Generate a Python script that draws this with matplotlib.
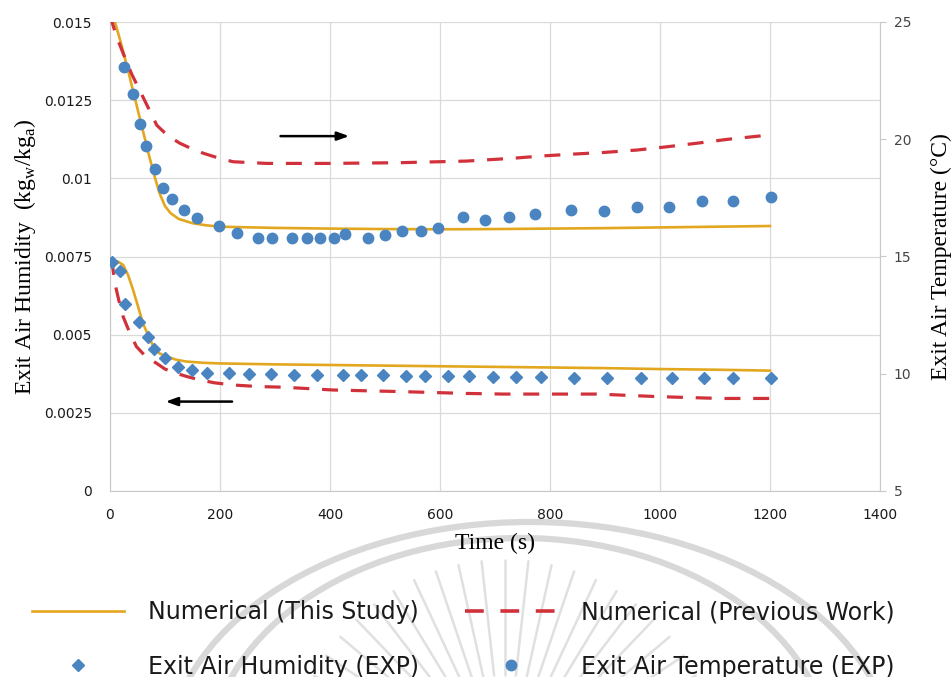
import numpy as np
import matplotlib
matplotlib.use('Agg')
import matplotlib.pyplot as plt
from matplotlib.lines import Line2D
from matplotlib.patches import Ellipse

# exit air humidity (left axis, kg_w/kg_a)
time_hum_this = [0, 4, 15, 24, 33, 42, 51, 60, 70, 79, 90, 103, 120, 139, 170, 200,
                 300, 400, 500, 600, 700, 800, 900, 1000, 1100, 1200]
hum_this = [0.00742, 0.00739, 0.00733, 0.00723, 0.0069, 0.00643, 0.0059, 0.00536,
            0.00495, 0.00462, 0.0044, 0.0043, 0.0042, 0.00414, 0.0041, 0.00408,
            0.00405, 0.00403, 0.00401, 0.00399, 0.00397, 0.00395, 0.00393, 0.0039,
            0.00388, 0.00385]

time_hum_prev = [0, 4, 9, 16, 24, 35, 48, 65, 85, 100, 121, 140, 164, 190, 224, 270,
                 315, 406, 527, 649, 715, 885, 994, 1109, 1200]
hum_prev = [0.0074, 0.00728, 0.00664, 0.0061, 0.00557, 0.0051, 0.00462, 0.0043,
            0.00408, 0.0039, 0.00376, 0.00366, 0.00355, 0.00346, 0.00339, 0.00334,
            0.00332, 0.00323, 0.00318, 0.00312, 0.0031, 0.0031, 0.00302, 0.00296,
            0.00296]

time_hum_exp = [3, 18, 28, 52, 70, 80, 100, 123, 150, 177, 216, 253, 292, 335, 377,
                424, 457, 496, 538, 572, 615, 653, 697, 738, 784, 843, 903, 965,
                1022, 1080, 1133, 1202]
hum_exp = [0.00733, 0.00705, 0.00598, 0.00542, 0.00494, 0.00453, 0.00424, 0.00398,
           0.00387, 0.00378, 0.00376, 0.00373, 0.00373, 0.00371, 0.00371, 0.00371,
           0.00371, 0.00371, 0.00368, 0.00368, 0.00368, 0.00368, 0.00366, 0.00366,
           0.00366, 0.00362, 0.00362, 0.00362, 0.00362, 0.0036, 0.0036, 0.0036]

# exit air temperature (right axis, deg C)
time_temp_this = [0, 9, 20, 30, 40, 50, 60, 70, 80, 90, 100, 110, 125, 150, 175, 200,
                  300, 400, 500, 600, 700, 800, 900, 1000, 1100, 1200]
temp_this = [25.9, 25.0, 24.1, 23.2, 22.25, 21.3, 20.35, 19.4, 18.5, 17.7, 17.15,
             16.85, 16.6, 16.42, 16.33, 16.27, 16.22, 16.19, 16.17, 16.16, 16.17,
             16.19, 16.21, 16.24, 16.27, 16.3]

time_temp_prev = [0, 5, 12, 25, 39, 60, 85, 105, 127, 150, 170, 200, 224, 285, 400,
                  527, 649, 733, 787, 845, 900, 958, 1013, 1067, 1124, 1182, 1200]
temp_prev = [25.3, 24.9, 24.37, 23.6, 22.8, 21.8, 20.6, 20.15, 19.83, 19.58, 19.4,
             19.18, 19.04, 18.97, 18.97, 19.0, 19.07, 19.19, 19.29, 19.37, 19.44,
             19.54, 19.68, 19.83, 20.0, 20.14, 20.2]

time_temp_exp = [25, 41, 55, 66, 81, 96, 113, 135, 158, 199, 231, 270, 295, 331, 359,
                 381, 408, 428, 469, 500, 531, 565, 597, 642, 681, 726, 773, 838, 899,
                 958, 1016, 1076, 1133, 1202]
temp_exp = [23.07, 21.93, 20.65, 19.71, 18.72, 17.92, 17.45, 16.98, 16.65, 16.3,
            15.99, 15.8, 15.8, 15.8, 15.8, 15.8, 15.8, 15.95, 15.8, 15.92, 16.09,
            16.09, 16.23, 16.7, 16.56, 16.67, 16.83, 16.98, 16.94, 17.11, 17.11,
            17.37, 17.37, 17.54]

yellow = '#E2A71E'
red = '#D1313A'
blue = '#4A85C1'
grid_c = '#DADADA'
serif = 'Liberation Serif'

fig = plt.figure(figsize=(9.53, 6.77), dpi=100)

# faint seal in the background
wm = fig.add_axes([0, 0, 1, 1], zorder=-1)
wm.set_xlim(0, 953)
wm.set_ylim(677, 0)
wm.axis('off')
wm.add_patch(Ellipse((530, 760), 726, 476, fill=False, ec='#D8D8D8', lw=4.5))
wm.add_patch(Ellipse((520, 760), 622, 444, fill=False, ec='#D8D8D8', lw=4.5))
for ang in np.linspace(-165, -15, 25):
    a = np.deg2rad(ang)
    wm.plot([505 + 100 * np.cos(a), 505 + 215 * np.cos(a)],
            [775 + 100 * np.sin(a), 775 + 215 * np.sin(a)],
            color='#E0E0E0', lw=1.8, solid_capstyle='round')

ax = fig.add_axes([110 / 953, 1 - 491 / 677, 770 / 953, 469 / 677])
ax.patch.set_alpha(0)
ax2 = ax.twinx()

ax.set_xlim(0, 1400)
ax.set_ylim(0, 0.015)
ax2.set_ylim(5, 25)
ax.set_xticks(np.arange(0, 1401, 200))
ax.set_yticks(np.arange(0, 0.0151, 0.0025))
ax.set_yticklabels(['0', '0.0025', '0.005', '0.0075', '0.01', '0.0125', '0.015'])
ax2.set_yticks([5, 10, 15, 20, 25])

ax.grid(True, color=grid_c, lw=0.9)
ax.set_axisbelow(True)
for sp in ax.spines.values():
    sp.set_visible(False)
for sp in ax2.spines.values():
    sp.set_visible(False)
ax.spines['left'].set_visible(True)
ax.spines['left'].set_color('#C8C8C8')
ax.spines['bottom'].set_visible(True)
ax.spines['bottom'].set_color('#C8C8C8')
ax2.spines['right'].set_visible(True)
ax2.spines['right'].set_color('#C8C8C8')

ax.tick_params(axis='both', length=0, labelsize=10, labelcolor='#1a1a1a')
ax.tick_params(axis='y', pad=13)
ax.tick_params(axis='x', pad=12)
ax2.tick_params(axis='y', length=4, color='#C8C8C8', labelsize=10,
                labelcolor='#444444', pad=6)

# humidity curves
l_this, = ax.plot(time_hum_this, hum_this, color=yellow, lw=1.9, zorder=3)
ax.plot(time_hum_prev, hum_prev, color=red, lw=2.3, dashes=(5, 4), zorder=3)
m_hum, = ax.plot(time_hum_exp, hum_exp, ls='none', marker='D', ms=6.5,
                 color=blue, zorder=4)

# temperature curves
ax2.plot(time_temp_this, temp_this, color=yellow, lw=1.9, zorder=3)
ax2.plot(time_temp_prev, temp_prev, color=red, lw=2.3, dashes=(5, 4), zorder=3)
m_temp, = ax2.plot(time_temp_exp, temp_exp, ls='none', marker='o', ms=7.5,
                   color=blue, zorder=4)

# arrows pointing to the matching axis
arrow = dict(arrowstyle='-|>,head_length=0.7,head_width=0.25', color='black', lw=1.8)
ax.annotate('', xy=(440, 0.01135), xytext=(305, 0.01135), arrowprops=arrow)
ax.annotate('', xy=(96, 0.00286), xytext=(227, 0.00286), arrowprops=arrow)

ax.set_xlabel('Time (s)', family=serif, fontsize=17, labelpad=8)
ax.set_ylabel(r'Exit Air Humidity  (kg$_\mathregular{w}$/kg$_\mathregular{a}$)',
              family=serif, fontsize=17, labelpad=4)
ax2.set_ylabel('Exit Air Temperature (°C)', family=serif, fontsize=17, labelpad=14)

# legend key for the dashed line, with longer dashes
l_prev_key = Line2D([], [], color=red, lw=2.6, dashes=(5.2, 4.6))
handles = [l_this, m_hum, l_prev_key, m_temp]
labels = ['Numerical (This Study)', 'Exit Air Humidity (EXP)',
          'Numerical (Previous Work)', 'Exit Air Temperature (EXP)']
leg = fig.legend(handles, labels, ncol=2, loc='lower left',
                 bbox_to_anchor=(30 / 953, -0.006), frameon=False, borderpad=0.1,
                 borderaxespad=0, fontsize=17, handlelength=3.9, handletextpad=1.0,
                 columnspacing=1.95, labelspacing=1.3)
for t in leg.get_texts():
    t.set_color('#1a1a1a')

fig.savefig('out.png', dpi=100)
